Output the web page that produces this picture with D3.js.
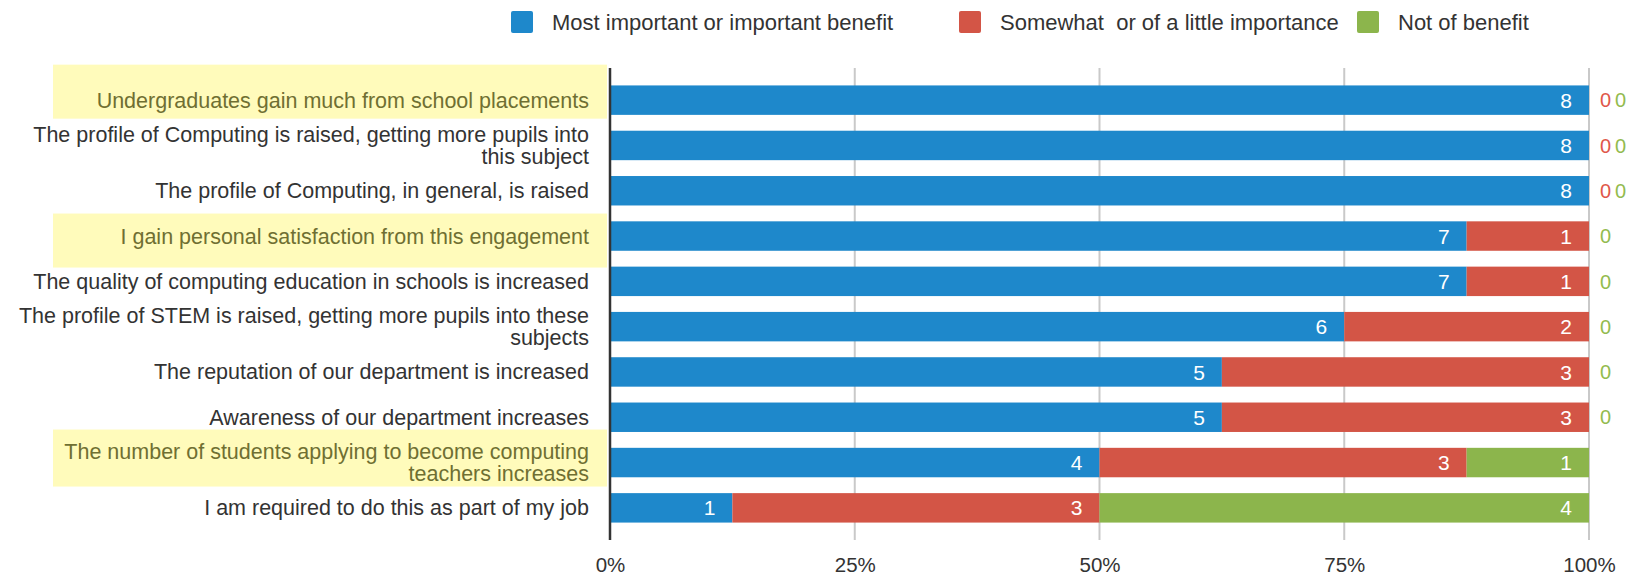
<!DOCTYPE html>
<html>
<head>
<meta charset="utf-8">
<script src="https://cdn.jsdelivr.net/npm/d3@7"></script>
<style>
  body { margin: 0; background: #fff; }
  svg { font-family: "Liberation Sans", Arial, sans-serif; }
</style>
</head>
<body>
<script>
// survey answers, one row per statement (8 respondents each)
var categories = [
  ["Undergraduates gain much from school placements"],
  ["The profile of Computing is raised, getting more pupils into", "this subject"],
  ["The profile of Computing, in general, is raised"],
  ["I gain personal satisfaction from this engagement"],
  ["The quality of computing education in schools is increased"],
  ["The profile of STEM is raised, getting more pupils into these", "subjects"],
  ["The reputation of our department is increased"],
  ["Awareness of our department increases"],
  ["The number of students applying to become computing", "teachers increases"],
  ["I am required to do this as part of my job"]
];
var important = [8, 8, 8, 7, 7, 6, 5, 5, 4, 1];
var somewhat = [0, 0, 0, 1, 1, 2, 3, 3, 3, 3];
var notBenefit = [0, 0, 0, 0, 0, 0, 0, 0, 1, 4];

var seriesNames = ["Most important or important benefit", "Somewhat  or of a little importance", "Not of benefit"];
var highlighted = [0, 3, 8];
var xTicks = [0, 0.25, 0.5, 0.75, 1];

var colors = ["#1e88cb", "#d35546", "#8cb54c"];
var labelColors = ["#fff", "#e0574a", "#93bb4f"];

var width = 1643, height = 577;
var x0 = 610, x1 = 1589;

var svg = d3.select("body").append("svg")
  .attr("width", width)
  .attr("height", height);

var rows = categories.map(function (c, i) {
  return { key: i, label: c, v0: important[i], v1: somewhat[i], v2: notBenefit[i] };
});

var stack = d3.stack()
  .keys(["v0", "v1", "v2"])
  .offset(d3.stackOffsetExpand);
var layers = stack(rows);

var x = d3.scaleLinear().domain([0, 1]).range([x0, x1]);
var y = d3.scaleBand()
  .domain(d3.range(categories.length))
  .range([77.5, 530.5])
  .paddingInner(0.35)
  .paddingOuter(0.175);

// yellow boxes behind a few of the statements (top/bottom offset from row centre)
var boxes = [[0, -35.5, 18.5], [3, -22.5, 31.5], [8, -33, 24]];
svg.append("g").selectAll("rect")
  .data(boxes.filter(function (b) { return highlighted.indexOf(b[0]) >= 0; }))
  .enter().append("rect")
  .attr("x", 53)
  .attr("width", 554)
  .attr("y", function (b) { return y(b[0]) + y.bandwidth() / 2 + b[1]; })
  .attr("height", function (b) { return b[2] - b[1]; })
  .attr("fill", "#fffbbb");

// vertical gridlines
svg.append("g").selectAll("line")
  .data(xTicks.slice(1))
  .enter().append("line")
  .attr("x1", function (d) { return x(d); })
  .attr("x2", function (d) { return x(d); })
  .attr("y1", 68).attr("y2", 540)
  .attr("stroke", "#c9c9c9")
  .attr("stroke-width", 2);

// bars
var groups = svg.append("g").selectAll("g")
  .data(layers)
  .enter().append("g")
  .attr("fill", function (d, i) { return colors[i]; });

groups.selectAll("rect")
  .data(function (d) { return d; })
  .enter().append("rect")
  .filter(function (d) { return d[1] - d[0] > 0; })
  .attr("x", function (d) { return x(d[0]); })
  .attr("width", function (d) { return x(d[1]) - x(d[0]); })
  .attr("y", function (d) { return y(d.data.key); })
  .attr("height", y.bandwidth());

// value labels: inside the segment, zeros spill out past 100%
layers.forEach(function (layer, li) {
  var key = layer.key;
  layer.forEach(function (d) {
    var v = d.data[key];
    var cy = y(d.data.key) + y.bandwidth() / 2;
    if (v > 0) {
      svg.append("text")
        .attr("x", x(d[1]) - 17)
        .attr("y", cy)
        .attr("dy", "0.36em")
        .attr("text-anchor", "end")
        .attr("fill", "#fff")
        .attr("font-size", 21)
        .text(v);
    } else {
      var zerosBefore = 0;
      for (var k = 0; k < li; k++) if (d.data[layers[k].key] === 0) zerosBefore++;
      svg.append("text")
        .attr("x", x1 + 11 + zerosBefore * 15)
        .attr("y", cy)
        .attr("dy", "0.36em")
        .attr("fill", labelColors[li])
        .attr("font-size", 20)
        .text(v);
    }
  });
});

// category labels
var labels = svg.append("g").selectAll("text")
  .data(rows)
  .enter().append("text")
  .attr("text-anchor", "end")
  .attr("font-size", 21.5)
  .attr("fill", function (d) { return highlighted.indexOf(d.key) >= 0 ? "#6f6f32" : "#333"; })
  .attr("y", function (d) { return y(d.key) + y.bandwidth() / 2; });

labels.selectAll("tspan")
  .data(function (d) {
    var n = d.label.length;
    return d.label.map(function (t, i) { return { t: t, off: (i - (n - 1) / 2) * 22 }; });
  })
  .enter().append("tspan")
  .attr("x", 589)
  .attr("dy", function (d, i) { return i === 0 ? (d.off + 7.5) + "px" : "22px"; })
  .text(function (d) { return d.t; });

// left axis line
svg.append("line")
  .attr("x1", x0).attr("x2", x0)
  .attr("y1", 68).attr("y2", 540)
  .attr("stroke", "#333")
  .attr("stroke-width", 2.5);

// bottom tick labels
var xAxis = d3.axisBottom(x)
  .tickValues(xTicks)
  .tickFormat(d3.format(".0%"))
  .tickSize(0)
  .tickPadding(0);
var ax = svg.append("g")
  .attr("transform", "translate(0,557)")
  .call(xAxis);
ax.select(".domain").remove();
ax.selectAll("text")
  .attr("font-size", 20.5)
  .attr("fill", "#333")
  .attr("font-family", "Liberation Sans, Arial, sans-serif");

// legend
var legendX = [511, 959, 1357];
var legend = svg.append("g").selectAll("g")
  .data(seriesNames)
  .enter().append("g")
  .attr("transform", function (d, i) { return "translate(" + legendX[i] + ",11)"; });
legend.append("rect")
  .attr("width", 22).attr("height", 22)
  .attr("rx", 2)
  .attr("fill", function (d, i) { return colors[i]; });
legend.append("text")
  .attr("x", 41)
  .attr("y", 11)
  .attr("dy", "0.36em")
  .attr("font-size", 22)
  .attr("fill", "#333")
  .attr("xml:space", "preserve")
  .style("white-space", "pre")
  .text(function (d) { return d; });
</script>
</body>
</html>
